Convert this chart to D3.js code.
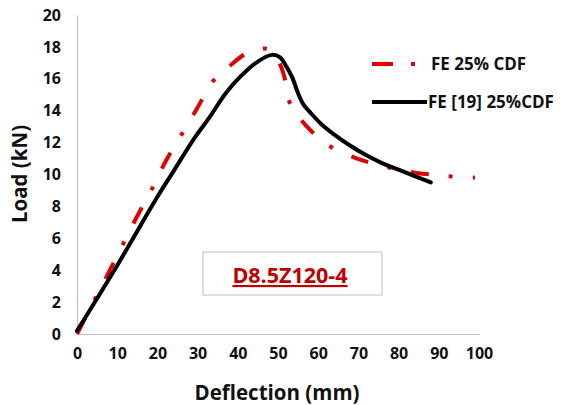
<!DOCTYPE html>
<html><head><meta charset="utf-8">
<script src="https://cdn.jsdelivr.net/npm/d3@7"></script>
<style>body{margin:0;background:#fff}svg{display:block}</style>
</head><body>
<script>
const xTicks = [0,10,20,30,40,50,60,70,80,90,100];
const yTicks = [0,2,4,6,8,10,12,14,16,18,20];
const seriesNames = ["FE 25% CDF", "FE [19] 25%CDF"];
const redDefl = [0,5,10,15,18.6,22,26,30,34,38,41.5,46,48,50.5,51.7,52.6,55,57.2,62.4,69.7,75,80,84.5,92.3,99];
const redLoad = [0,2.45,4.9,7.4,9.07,10.8,12.5,14.2,15.9,16.8,17.5,17.9,17.8,16.9,16.0,14.7,13.7,13.0,11.85,11.0,10.6,10.3,10.1,9.9,9.8];
const blackDefl = [0,10,20,24,29,33,37,40.5,44.5,48.5,50.5,52,53.5,55,56.3,58,61,64,68,72,76,80,84,88];
const blackLoad = [0.2,4.3,8.6,10.2,12.2,13.6,15.1,16.1,17.0,17.5,17.35,16.8,16.1,15.1,14.4,13.9,13.1,12.5,11.8,11.2,10.7,10.3,9.9,9.5];
const annotation = "D8.5Z120-4";

const W=571,H=405;
const svg=d3.select("body").append("svg").attr("width",W).attr("height",H);
const x=d3.scaleLinear().domain([0,100]).range([77,479]);
const y=d3.scaleLinear().domain([0,20]).range([334,15]);
const font="'Open Sans', sans-serif";

// axes
const xa=svg.append("g").attr("transform","translate(0,334)")
 .call(d3.axisBottom(x).tickValues(xTicks).tickSize(0).tickPadding(14));
const ya=svg.append("g").attr("transform","translate(77,0)")
 .call(d3.axisLeft(y).tickValues(yTicks).tickSize(0).tickPadding(16));
[xa,ya].forEach(a=>{
 a.select(".domain").attr("stroke","#bfbfbf").attr("stroke-width",1.2);
 a.selectAll("text").attr("font-family",font).attr("font-weight","bold").attr("font-size","16px").attr("fill","#111");
});

// annotation box
svg.append("rect").attr("x",203).attr("y",252).attr("width",179).attr("height",43)
 .attr("fill","#fff").attr("stroke","#bfbfbf").attr("stroke-width",1);
svg.append("text").attr("x",290).attr("y",283).attr("text-anchor","middle")
 .attr("font-family",font).attr("font-weight","bold").attr("font-size","21.5px")
 .attr("fill","#c00000").attr("text-decoration","underline").text(annotation);

const line=d3.line().x(d=>x(d[0])).y(d=>y(d[1])).curve(d3.curveCatmullRom.alpha(0.5));
const red=redDefl.map((d,i)=>[d,redLoad[i]]);
const black=blackDefl.map((d,i)=>[d,blackLoad[i]]);
svg.append("path").attr("d",line(red)).attr("fill","none").attr("stroke","#e00000")
 .attr("stroke-width",4).attr("stroke-dasharray","18,20,4,20");
svg.append("path").attr("d",line(black)).attr("fill","none").attr("stroke","#000")
 .attr("stroke-width",4).attr("stroke-linecap","round");

// legend
svg.append("line").attr("x1",372).attr("x2",427).attr("y1",64).attr("y2",64)
 .attr("stroke","#e00000").attr("stroke-width",4).attr("stroke-dasharray","21,18,4,100");
svg.append("line").attr("x1",372).attr("x2",427).attr("y1",102).attr("y2",102)
 .attr("stroke","#000").attr("stroke-width",4);
[[64,seriesNames[0],431],[102,seriesNames[1],428]].forEach(([yy,t,xx])=>{
 svg.append("text").attr("x",xx).attr("y",yy).attr("dy","0.35em")
  .attr("font-family",font).attr("font-weight","bold").attr("font-size","17px").attr("fill","#111").text(t);
});

// axis titles
svg.append("text").attr("x",277).attr("y",400).attr("text-anchor","middle")
 .attr("font-family",font).attr("font-weight","bold").attr("font-size","20.5px").attr("fill","#111").text("Deflection (mm)");
svg.append("text").attr("transform","translate(27,174) rotate(-90)").attr("text-anchor","middle")
 .attr("font-family",font).attr("font-weight","bold").attr("font-size","20.5px").attr("fill","#111").text("Load (kN)");
</script>
</body></html>
